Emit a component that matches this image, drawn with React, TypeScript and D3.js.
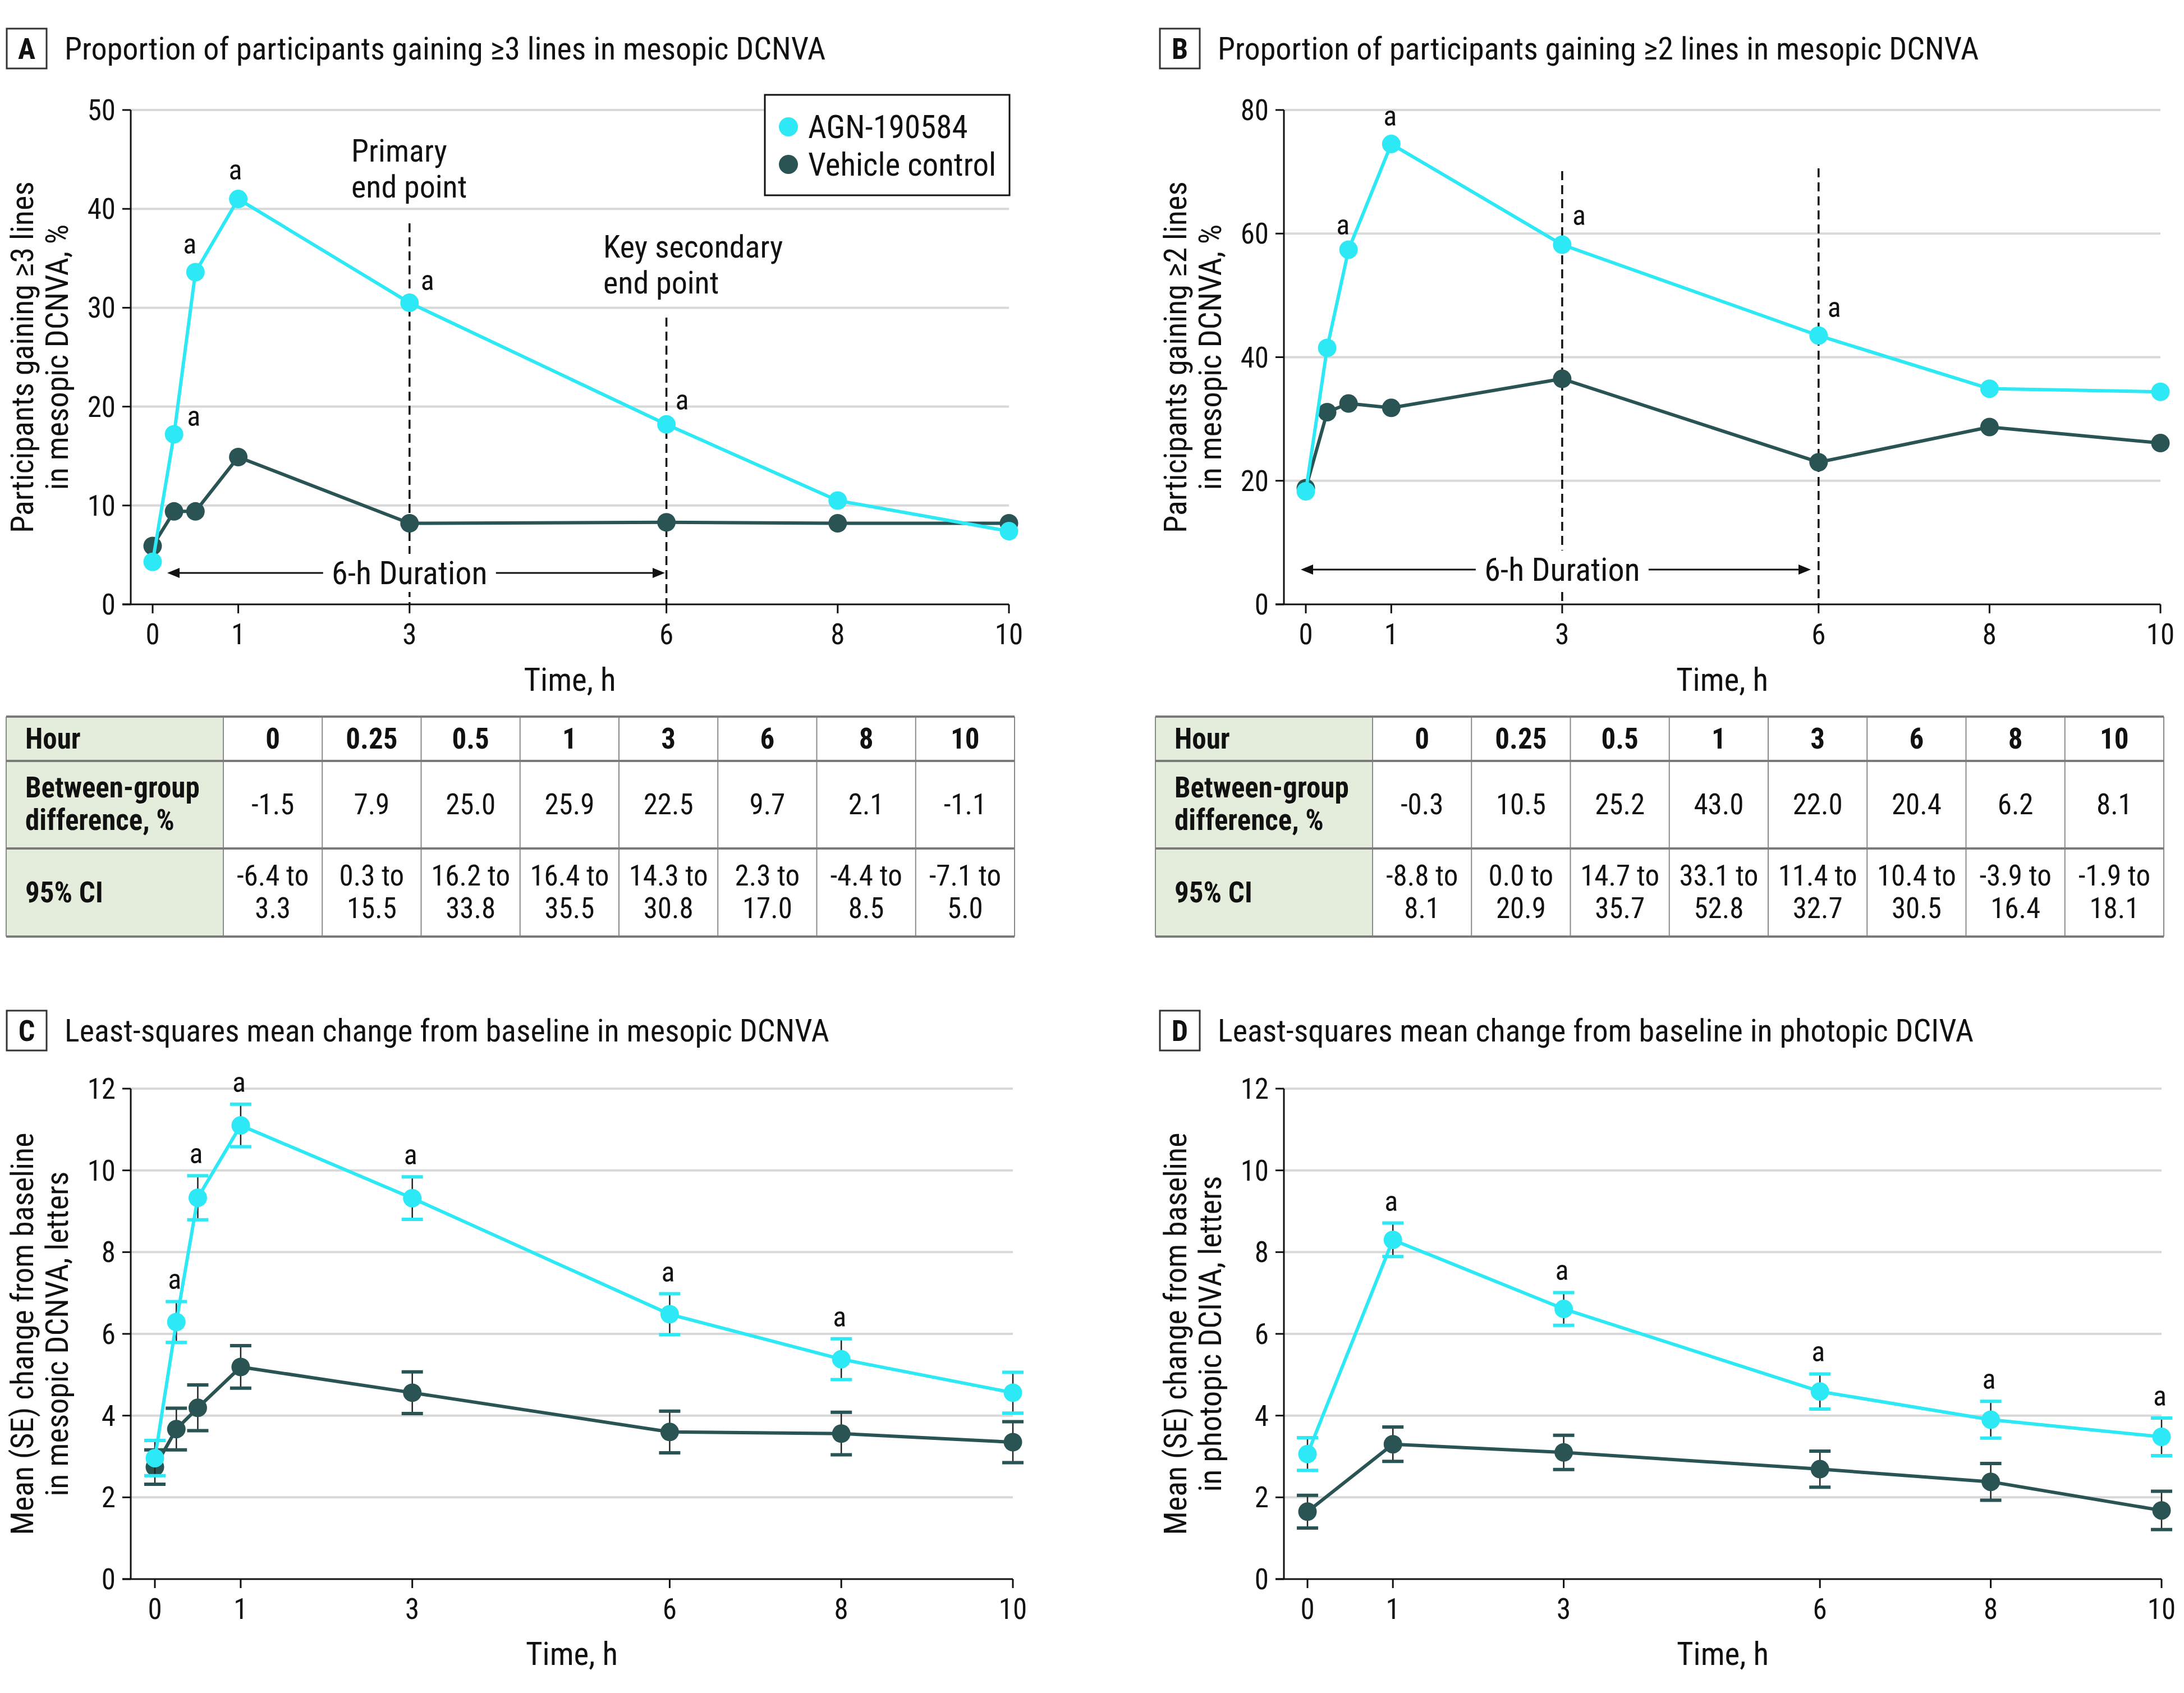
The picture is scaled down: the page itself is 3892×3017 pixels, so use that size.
import React from 'react';
import * as d3 from 'd3';

// ---------------- DATA ----------------
const HOURS = [0, 0.25, 0.5, 1, 3, 6, 8, 10];
const HOURS_D = [0, 1, 3, 6, 8, 10];
const X_TICKS = [0, 1, 3, 6, 8, 10];
const SERIES_NAMES = ['AGN-190584', 'Vehicle control'];

const A_AGN = [4.3, 17.2, 33.6, 41.0, 30.5, 18.2, 10.5, 7.4];
const A_VEH = [5.9, 9.4, 9.4, 14.9, 8.2, 8.3, 8.2, 8.2];
const A_SIG = [0.25, 0.5, 1, 3, 6];
const A_YTICKS = [0, 10, 20, 30, 40, 50];

const B_AGN = [18.3, 41.5, 57.4, 74.5, 58.2, 43.5, 34.9, 34.4];
const B_VEH = [18.8, 31.1, 32.5, 31.8, 36.5, 23.0, 28.7, 26.1];
const B_SIG = [0.5, 1, 3, 6];
const B_YTICKS = [0, 20, 40, 60, 80];

const C_AGN = [2.96, 6.29, 9.33, 11.1, 9.32, 6.48, 5.38, 4.56];
const C_AGN_SE = [0.43, 0.5, 0.54, 0.52, 0.52, 0.5, 0.5, 0.5];
const C_VEH = [2.74, 3.67, 4.19, 5.19, 4.56, 3.6, 3.56, 3.35];
const C_VEH_SE = [0.42, 0.51, 0.56, 0.52, 0.51, 0.51, 0.52, 0.5];
const C_SIG = [0.25, 0.5, 1, 3, 6, 8];

const D_AGN = [3.06, 8.3, 6.61, 4.59, 3.9, 3.48];
const D_AGN_SE = [0.4, 0.41, 0.4, 0.43, 0.45, 0.46];
const D_VEH = [1.65, 3.3, 3.1, 2.69, 2.38, 1.68];
const D_VEH_SE = [0.4, 0.42, 0.42, 0.44, 0.45, 0.47];
const D_SIG = [1, 3, 6, 8, 10];
const CD_YTICKS = [0, 2, 4, 6, 8, 10, 12];

const TABLE_HOURS = ['0', '0.25', '0.5', '1', '3', '6', '8', '10'];
const TABLE_ROW_LABELS = [['Hour'], ['Between-group', 'difference, %'], ['95% CI']];
const A_DIFF = ['-1.5', '7.9', '25.0', '25.9', '22.5', '9.7', '2.1', '-1.1'];
const A_CI_LO = ['-6.4', '0.3', '16.2', '16.4', '14.3', '2.3', '-4.4', '-7.1'];
const A_CI_HI = ['3.3', '15.5', '33.8', '35.5', '30.8', '17.0', '8.5', '5.0'];
const B_DIFF = ['-0.3', '10.5', '25.2', '43.0', '22.0', '20.4', '6.2', '8.1'];
const B_CI_LO = ['-8.8', '0.0', '14.7', '33.1', '11.4', '10.4', '-3.9', '-1.9'];
const B_CI_HI = ['8.1', '20.9', '35.7', '52.8', '32.7', '30.5', '16.4', '18.1'];

const TITLES = [
  'Proportion of participants gaining \u22653 lines in mesopic DCNVA',
  'Proportion of participants gaining \u22652 lines in mesopic DCNVA',
  'Least-squares mean change from baseline in mesopic DCNVA',
  'Least-squares mean change from baseline in photopic DCIVA',
];
const YLABELS = [
  ['Participants gaining \u22653 lines', 'in mesopic DCNVA, %'],
  ['Participants gaining \u22652 lines', 'in mesopic DCNVA, %'],
  ['Mean (SE) change from baseline', 'in mesopic DCNVA, letters'],
  ['Mean (SE) change from baseline', 'in photopic DCIVA, letters'],
];

// ---------------- STYLE ----------------
const CYAN = '#2DE8F5';
const DARK = '#2A5353';
const GRID = '#D8D8D8';
const FONT = "'Liberation Sans Narrow', 'Arial Narrow', 'Roboto Condensed', Roboto, sans-serif";

type Series = { name: string; color: string; hours: number[]; values: number[]; se?: number[] };

type PanelCfg = {
  letter: string;
  title: string;
  ylabel: string[];
  ox: number;
  oy: number;
  yAxisX: number;
  xRange: [number, number];
  yRange: [number, number];
  yDomain: [number, number];
  yTicks: number[];
  series: Series[];
  sig: number[];
  sigOffsets?: Record<string, [number, number]>;
  sigAboveCap?: boolean;
  xTitleY: number;
  extras?: (x: d3.ScaleLinear<number, number>, y: d3.ScaleLinear<number, number>) => React.ReactNode;
};

function Panel({ cfg }: { cfg: PanelCfg }) {
  const x = d3.scaleLinear().domain([0, 10]).range(cfg.xRange);
  const y = d3.scaleLinear().domain(cfg.yDomain).range(cfg.yRange);
  const line = d3.line<[number, number]>();
  const [, x1] = cfg.xRange;
  const [yb, yt] = cfg.yRange;
  const ax = cfg.yAxisX;
  const midY = (yb + yt) / 2;

  const drawOrder = [cfg.series[1], cfg.series[0]];
  const agn = cfg.series[0];

  return (
    <g>
      <rect x={cfg.ox + 12} y={cfg.oy} width={71} height={71} fill="#fff" stroke="#333" strokeWidth={3} />
      <text x={cfg.ox + 47.5} y={cfg.oy + 54} textAnchor="middle" fontFamily={FONT} fontWeight="bold" fontSize={52} fill="#111">
        {cfg.letter}
      </text>
      <text x={cfg.ox + 115} y={cfg.oy + 55} fontFamily={FONT} fontSize={56} fill="#111">
        {cfg.title}
      </text>

      {cfg.yTicks.filter((t) => t !== 0).map((t) => (
        <line key={'g' + t} x1={ax} x2={x1} y1={y(t)} y2={y(t)} stroke={GRID} strokeWidth={4} />
      ))}

      <line x1={ax} x2={ax} y1={yb} y2={y(cfg.yDomain[1])} stroke="#111" strokeWidth={3} />
      <line x1={ax - 15} x2={x1} y1={yb} y2={yb} stroke="#111" strokeWidth={3} />
      {cfg.yTicks.map((t) => (
        <g key={'yt' + t}>
          <line x1={ax - 15} x2={ax} y1={y(t)} y2={y(t)} stroke="#111" strokeWidth={3} />
          <text x={ax - 27} y={y(t) + 18} textAnchor="end" fontFamily={FONT} fontSize={51} fill="#111">
            {t}
          </text>
        </g>
      ))}
      {X_TICKS.map((t) => (
        <g key={'xt' + t}>
          <line x1={x(t)} x2={x(t)} y1={yb} y2={yb + 16} stroke="#111" strokeWidth={3} />
          <text x={x(t)} y={yb + 71} textAnchor="middle" fontFamily={FONT} fontSize={51} fill="#111">
            {t}
          </text>
        </g>
      ))}
      <text x={(ax + x1) / 2} y={cfg.xTitleY} textAnchor="middle" fontFamily={FONT} fontSize={57} fill="#111">
        Time, h
      </text>
      {cfg.ylabel.map((l, i) => (
        <text
          key={'yl' + i}
          transform={`translate(${cfg.ox + 59 + i * 62},${midY}) rotate(-90)`}
          textAnchor="middle"
          fontFamily={FONT}
          fontSize={56}
          fill="#111"
        >
          {l}
        </text>
      ))}

      {cfg.extras ? cfg.extras(x, y) : null}

      {drawOrder.map((s) => (
        <g key={s.name}>
          {s.se
            ? s.hours.map((h, i) => {
                const lo = y(s.values[i] - s.se![i]);
                const hi = y(s.values[i] + s.se![i]);
                return (
                  <g key={'eb' + h}>
                    <line x1={x(h)} x2={x(h)} y1={lo} y2={hi} stroke="#222" strokeWidth={2.5} />
                    <line x1={x(h) - 19} x2={x(h) + 19} y1={lo} y2={lo} stroke={s.color} strokeWidth={6} />
                    <line x1={x(h) - 19} x2={x(h) + 19} y1={hi} y2={hi} stroke={s.color} strokeWidth={6} />
                  </g>
                );
              })
            : null}
          <path
            d={line(s.hours.map((h, i) => [x(h), y(s.values[i])] as [number, number])) || ''}
            fill="none"
            stroke={s.color}
            strokeWidth={6}
            strokeLinejoin="round"
          />
          {s.hours.map((h, i) => (
            <circle key={'p' + h} cx={x(h)} cy={y(s.values[i])} r={16.5} fill={s.color} />
          ))}
        </g>
      ))}

      {cfg.sig.map((h) => {
        const i = agn.hours.indexOf(h);
        const v = agn.values[i];
        let px = x(h);
        let py: number;
        if (cfg.sigAboveCap && agn.se) {
          py = y(v + agn.se[i]) - 22;
          px = px - 3;
        } else {
          const off = (cfg.sigOffsets && cfg.sigOffsets[String(h)]) || [0, -33];
          px += off[0];
          py = y(v) + off[1];
        }
        return (
          <text key={'a' + h} x={px} y={py} textAnchor="middle" fontFamily={FONT} fontSize={50} fill="#111">
            a
          </text>
        );
      })}
    </g>
  );
}

function DurationArrow({ y, xa, xb, xc }: { y: number; xa: number; xb: number; xc: number }) {
  const half = 154;
  return (
    <g>
      <line x1={xa + 18} x2={xc - half} y1={y} y2={y} stroke="#111" strokeWidth={3} />
      <line x1={xc + half} x2={xb - 18} y1={y} y2={y} stroke="#111" strokeWidth={3} />
      <path d={`M${xa},${y} L${xa + 22},${y - 9} L${xa + 22},${y + 9} Z`} fill="#111" />
      <path d={`M${xb},${y} L${xb - 22},${y - 9} L${xb - 22},${y + 9} Z`} fill="#111" />
      <rect x={xc - half + 6} y={y - 34} width={2 * half - 12} height={68} fill="#fff" />
      <text x={xc} y={y + 20} textAnchor="middle" fontFamily={FONT} fontSize={58} fill="#111">
        6-h Duration
      </text>
    </g>
  );
}

function Dashed({ x, yTop, yBottom }: { x: number; yTop: number; yBottom: number }) {
  return <line x1={x} x2={x} y1={yTop} y2={yBottom} stroke="#111" strokeWidth={3.5} strokeDasharray="16 9" />;
}

function Table({ ox, diff, lo, hi }: { ox: number; diff: string[]; lo: string[]; hi: string[] }) {
  const left = ox + 11;
  const headRight = ox + 398;
  const colW = 176.25;
  const right = headRight + colW * TABLE_HOURS.length;
  const rows = [1277, 1356, 1512, 1669];
  const colX = (i: number) => headRight + colW * i;
  const fs = 51;
  return (
    <g fontFamily={FONT} fill="#111">
      <rect x={left} y={rows[0]} width={headRight - left} height={rows[3] - rows[0]} fill="#E4EDDC" />
      {TABLE_HOURS.map((_, i) => (
        <line key={'v' + i} x1={colX(i)} x2={colX(i)} y1={rows[0]} y2={rows[3]} stroke="#8a8a8a" strokeWidth={2} />
      ))}
      <line x1={left} x2={left} y1={rows[0]} y2={rows[3]} stroke="#8a8a8a" strokeWidth={2} />
      <line x1={right} x2={right} y1={rows[0]} y2={rows[3]} stroke="#8a8a8a" strokeWidth={2} />
      {rows.map((r, i) => (
        <line key={'h' + i} x1={left} x2={right} y1={r} y2={r} stroke="#7a7a7a" strokeWidth={4} />
      ))}
      <text x={left + 34} y={1334} fontSize={fs} fontWeight="bold">{TABLE_ROW_LABELS[0][0]}</text>
      <text x={left + 34} y={1421} fontSize={fs} fontWeight="bold">{TABLE_ROW_LABELS[1][0]}</text>
      <text x={left + 34} y={1479} fontSize={fs} fontWeight="bold">{TABLE_ROW_LABELS[1][1]}</text>
      <text x={left + 34} y={1608} fontSize={fs} fontWeight="bold">{TABLE_ROW_LABELS[2][0]}</text>
      {TABLE_HOURS.map((h, i) => {
        const cx = colX(i) + colW / 2;
        return (
          <g key={'c' + i}>
            <text x={cx} y={1334} textAnchor="middle" fontSize={fs} fontWeight="bold">{h}</text>
            <text x={cx} y={1451} textAnchor="middle" fontSize={fs}>{diff[i]}</text>
            <text x={cx} y={1578} textAnchor="middle" fontSize={fs}>{lo[i] + ' to'}</text>
            <text x={cx} y={1636} textAnchor="middle" fontSize={fs}>{hi[i]}</text>
          </g>
        );
      })}
    </g>
  );
}

export default function App() {
  const sA: Series[] = [
    { name: SERIES_NAMES[0], color: CYAN, hours: HOURS, values: A_AGN },
    { name: SERIES_NAMES[1], color: DARK, hours: HOURS, values: A_VEH },
  ];
  const sB: Series[] = [
    { name: SERIES_NAMES[0], color: CYAN, hours: HOURS, values: B_AGN },
    { name: SERIES_NAMES[1], color: DARK, hours: HOURS, values: B_VEH },
  ];
  const sC: Series[] = [
    { name: SERIES_NAMES[0], color: CYAN, hours: HOURS, values: C_AGN, se: C_AGN_SE },
    { name: SERIES_NAMES[1], color: DARK, hours: HOURS, values: C_VEH, se: C_VEH_SE },
  ];
  const sD: Series[] = [
    { name: SERIES_NAMES[0], color: CYAN, hours: HOURS_D, values: D_AGN, se: D_AGN_SE },
    { name: SERIES_NAMES[1], color: DARK, hours: HOURS_D, values: D_VEH, se: D_VEH_SE },
  ];

  const cfgA: PanelCfg = {
    letter: 'A', title: TITLES[0], ylabel: YLABELS[0], ox: 0, oy: 51,
    yAxisX: 233, xRange: [272, 1798], yRange: [1077, 196], yDomain: [0, 50], yTicks: A_YTICKS,
    series: sA, sig: A_SIG, xTitleY: 1231,
    sigOffsets: { '0.25': [35, -15], '0.5': [-10, -33], '1': [-5, -35], '3': [32, -23], '6': [28, -26] },
    extras: (x) => (
      <g>
        <Dashed x={x(3)} yTop={398} yBottom={1077} />
        <Dashed x={x(6)} yTop={566} yBottom={1077} />
        <DurationArrow y={1021} xa={298} xb={1185} xc={x(3)} />
        <text x={626} y={288} fontFamily={FONT} fontSize={56} fill="#111">Primary</text>
        <text x={626} y={352} fontFamily={FONT} fontSize={56} fill="#111">end point</text>
        <text x={1075} y={459} fontFamily={FONT} fontSize={56} fill="#111">Key secondary</text>
        <text x={1075} y={523} fontFamily={FONT} fontSize={56} fill="#111">end point</text>
        <rect x={1363} y={169} width={436} height={179} fill="#fff" stroke="#111" strokeWidth={3} />
        <circle cx={1405} cy={226} r={17} fill={CYAN} />
        <text x={1440} y={246} fontFamily={FONT} fontSize={57} fill="#111">{SERIES_NAMES[0]}</text>
        <circle cx={1405} cy={293} r={17} fill={DARK} />
        <text x={1440} y={313} fontFamily={FONT} fontSize={57} fill="#111">{SERIES_NAMES[1]}</text>
      </g>
    ),
  };
  const cfgB: PanelCfg = {
    letter: 'B', title: TITLES[1], ylabel: YLABELS[1], ox: 2055, oy: 51,
    yAxisX: 2288, xRange: [2327, 3850], yRange: [1077, 196], yDomain: [0, 80], yTicks: B_YTICKS,
    series: sB, sig: B_SIG, xTitleY: 1231,
    sigOffsets: { '0.5': [-10, -27], '1': [-2, -33], '3': [30, -35], '6': [28, -33] },
    extras: (x) => (
      <g>
        <Dashed x={x(3)} yTop={305} yBottom={1077} />
        <Dashed x={x(6)} yTop={300} yBottom={1077} />
        <DurationArrow y={1015} xa={2318} xb={3227} xc={x(3)} />
      </g>
    ),
  };
  const cfgC: PanelCfg = {
    letter: 'C', title: TITLES[2], ylabel: YLABELS[2], ox: 0, oy: 1801,
    yAxisX: 233, xRange: [276, 1805], yRange: [2814, 1940], yDomain: [0, 12], yTicks: CD_YTICKS,
    series: sC, sig: C_SIG, sigAboveCap: true, xTitleY: 2967,
  };
  const cfgD: PanelCfg = {
    letter: 'D', title: TITLES[3], ylabel: YLABELS[3], ox: 2055, oy: 1801,
    yAxisX: 2288, xRange: [2330, 3852], yRange: [2814, 1940], yDomain: [0, 12], yTicks: CD_YTICKS,
    series: sD, sig: D_SIG, sigAboveCap: true, xTitleY: 2967,
  };

  return (
    <div style={{ position: 'absolute', left: 0, top: 0 }}>
      <svg width={3892} height={3017} viewBox="0 0 3892 3017" style={{ display: 'block', background: '#fff' }}>
        <rect x={0} y={0} width={3892} height={3017} fill="#fff" />
        <Panel cfg={cfgA} />
        <Panel cfg={cfgB} />
        <Panel cfg={cfgC} />
        <Panel cfg={cfgD} />
        <Table ox={0} diff={A_DIFF} lo={A_CI_LO} hi={A_CI_HI} />
        <Table ox={2048} diff={B_DIFF} lo={B_CI_LO} hi={B_CI_HI} />
      </svg>
    </div>
  );
}
